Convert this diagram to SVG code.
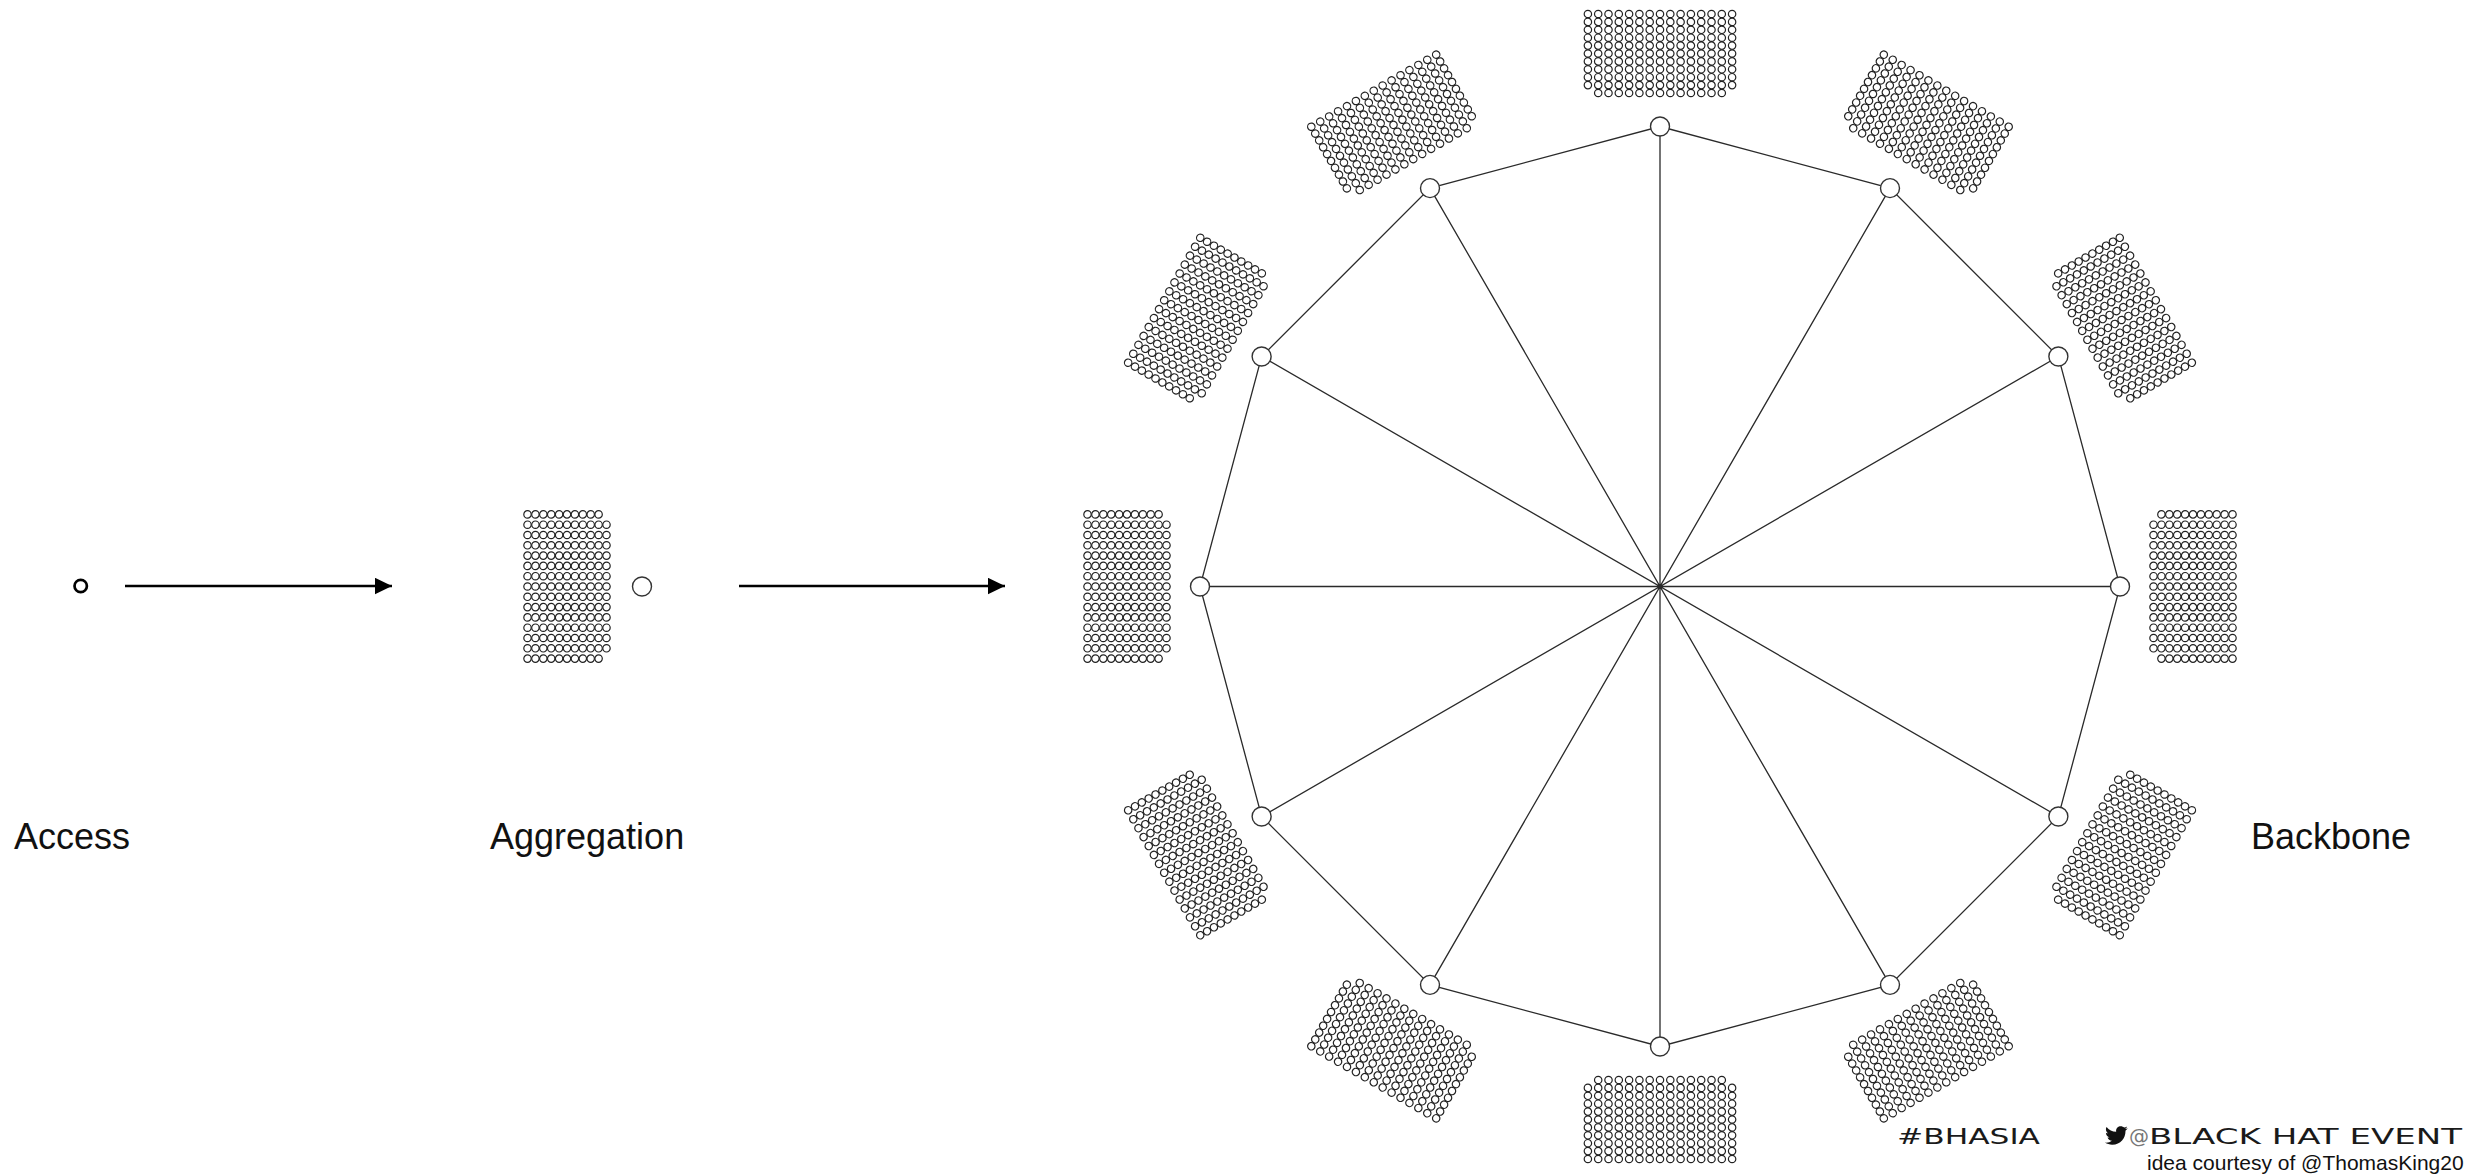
<svg xmlns="http://www.w3.org/2000/svg" xmlns:xlink="http://www.w3.org/1999/xlink" width="2465" height="1174" viewBox="0 0 2465 1174">
<style>
.n { fill:#fff; stroke:#333; stroke-width:1.4 }
.e { stroke:#2a2a2a; stroke-width:1.3; fill:none }
.dot { fill:#fff; stroke:#222; stroke-width:1.2 }
.arrow { stroke:#000; stroke-width:2.7; fill:none }
.lbl { font-family:"Liberation Sans", Arial, sans-serif; font-size:36px; fill:#111 }
.brand { font-family:"DejaVu Sans", "Liberation Sans", sans-serif; font-size:22px; fill:#1a1a1a }
.credit { font-family:"Liberation Sans", Arial, sans-serif; font-size:21px; fill:#111 }
</style>
<defs>
  <g id="row10" class="dot">
    <circle cx="-39.5" cy="0" r="3.7"/><circle cx="-31.6" cy="0" r="3.7"/><circle cx="-23.7" cy="0" r="3.7"/><circle cx="-15.8" cy="0" r="3.7"/><circle cx="-7.9" cy="0" r="3.7"/><circle cx="0" cy="0" r="3.7"/><circle cx="7.9" cy="0" r="3.7"/><circle cx="15.8" cy="0" r="3.7"/><circle cx="23.7" cy="0" r="3.7"/><circle cx="31.6" cy="0" r="3.7"/>
  </g>
  <g id="row11">
    <use href="#row10"/><circle class="dot" cx="39.5" cy="0" r="3.7"/>
  </g>
  <g id="block">
    <use href="#row10" y="-72.1"/>
    <use href="#row11" y="-61.8"/>
    <use href="#row11" y="-51.5"/>
    <use href="#row11" y="-41.2"/>
    <use href="#row11" y="-30.9"/>
    <use href="#row11" y="-20.6"/>
    <use href="#row11" y="-10.3"/>
    <use href="#row11" y="0"/>
    <use href="#row11" y="10.3"/>
    <use href="#row11" y="20.6"/>
    <use href="#row11" y="30.9"/>
    <use href="#row11" y="41.2"/>
    <use href="#row11" y="51.5"/>
    <use href="#row11" y="61.8"/>
    <use href="#row10" y="72.1"/>
  </g>
  <marker id="head" markerUnits="userSpaceOnUse" markerWidth="17" markerHeight="17" viewBox="0 0 17 17" refX="17" refY="8.5" orient="auto">
    <path d="M0,0.3 L17,8.5 L0,16.7 z" fill="#000"/>
  </marker>
</defs>
<rect x="0" y="0" width="2465" height="1174" fill="#fff"/>

<g id="connectors">
  <line class="arrow" x1="125" y1="586" x2="392" y2="586" marker-end="url(#head)"/>
  <line class="arrow" x1="739" y1="586" x2="1005" y2="586" marker-end="url(#head)"/>
  <polygon class="e" points="1660,126.5 1890,188.13 2058.37,356.5 2120,586.5 2058.37,816.5 1890,984.87 1660,1046.5 1430,984.87 1261.63,816.5 1200,586.5 1261.63,356.5 1430,188.13"/>
  <path class="e" d="M1660,126.5 L1660,1046.5 M1890,188.13 L1430,984.87 M2058.37,356.5 L1261.63,816.5 M2120,586.5 L1200,586.5 M2058.37,816.5 L1261.63,356.5 M1890,984.87 L1430,188.13"/>
</g>

<g id="access">
  <circle cx="80.7" cy="586" r="6.2" fill="none" stroke="#000" stroke-width="2.7"/>
  <text class="lbl" x="14" y="849">Access</text>
</g>

<g id="aggregation">
  <use href="#block" transform="translate(567,586.5)"/>
  <circle class="n" cx="642" cy="586.5" r="9.5"/>
  <text class="lbl" x="490" y="849">Aggregation</text>
</g>

<g id="backbone">
  <g id="bb-0"><use href="#block" transform="translate(1660,53.5) rotate(90)"/><circle class="n" cx="1660" cy="126.5" r="9.5"/></g>
  <g id="bb-1"><use href="#block" transform="translate(1926.5,124.91) rotate(120)"/><circle class="n" cx="1890" cy="188.13" r="9.5"/></g>
  <g id="bb-2"><use href="#block" transform="translate(2121.59,320) rotate(150)"/><circle class="n" cx="2058.37" cy="356.5" r="9.5"/></g>
  <g id="bb-3"><use href="#block" transform="translate(2193,586.5) rotate(180)"/><circle class="n" cx="2120" cy="586.5" r="9.5"/></g>
  <g id="bb-4"><use href="#block" transform="translate(2121.59,853) rotate(210)"/><circle class="n" cx="2058.37" cy="816.5" r="9.5"/></g>
  <g id="bb-5"><use href="#block" transform="translate(1926.5,1048.09) rotate(240)"/><circle class="n" cx="1890" cy="984.87" r="9.5"/></g>
  <g id="bb-6"><use href="#block" transform="translate(1660,1119.5) rotate(270)"/><circle class="n" cx="1660" cy="1046.5" r="9.5"/></g>
  <g id="bb-7"><use href="#block" transform="translate(1393.5,1048.09) rotate(300)"/><circle class="n" cx="1430" cy="984.87" r="9.5"/></g>
  <g id="bb-8"><use href="#block" transform="translate(1198.41,853) rotate(330)"/><circle class="n" cx="1261.63" cy="816.5" r="9.5"/></g>
  <g id="bb-9"><use href="#block" transform="translate(1127,586.5)"/><circle class="n" cx="1200" cy="586.5" r="9.5"/></g>
  <g id="bb-10"><use href="#block" transform="translate(1198.41,320) rotate(30)"/><circle class="n" cx="1261.63" cy="356.5" r="9.5"/></g>
  <g id="bb-11"><use href="#block" transform="translate(1393.5,124.91) rotate(60)"/><circle class="n" cx="1430" cy="188.13" r="9.5"/></g>
  <text class="lbl" x="2251" y="849">Backbone</text>
</g>

<g id="branding">
  <text class="brand" x="1897" y="1144" textLength="143" lengthAdjust="spacingAndGlyphs">#BHASIA</text>
  <path transform="translate(2105,1124) scale(0.95)" fill="#111" d="M23.954 4.569c-.885.389-1.830.654-2.825.775 1.014-.611 1.794-1.574 2.163-2.723-.951.555-2.005.959-3.127 1.184-.896-.959-2.173-1.559-3.591-1.559-2.717 0-4.92 2.203-4.92 4.917 0 .39.045.765.127 1.124C7.691 8.094 4.066 6.13 1.64 3.161c-.427.722-.666 1.561-.666 2.475 0 1.71.87 3.213 2.188 4.096-.807-.026-1.566-.248-2.228-.616v.061c0 2.385 1.693 4.374 3.946 4.827-.413.111-.849.171-1.296.171-.314 0-.615-.03-.916-.086.631 1.953 2.445 3.377 4.604 3.417-1.68 1.319-3.809 2.105-6.102 2.105-.39 0-.779-.023-1.17-.067 2.189 1.394 4.768 2.209 7.557 2.209 9.054 0 13.999-7.496 13.999-13.986 0-.209 0-.42-.015-.63.961-.689 1.8-1.56 2.46-2.548l-.047-.02z"/>
  <text x="2129" y="1143" font-family="DejaVu Sans, sans-serif" font-size="20" fill="#777">@</text>
  <text class="brand" x="2149" y="1144" textLength="313" lengthAdjust="spacingAndGlyphs">BLACK HAT EVENT</text>
  <text class="credit" x="2147" y="1170">idea courtesy of @ThomasKing20</text>
</g>
</svg>
